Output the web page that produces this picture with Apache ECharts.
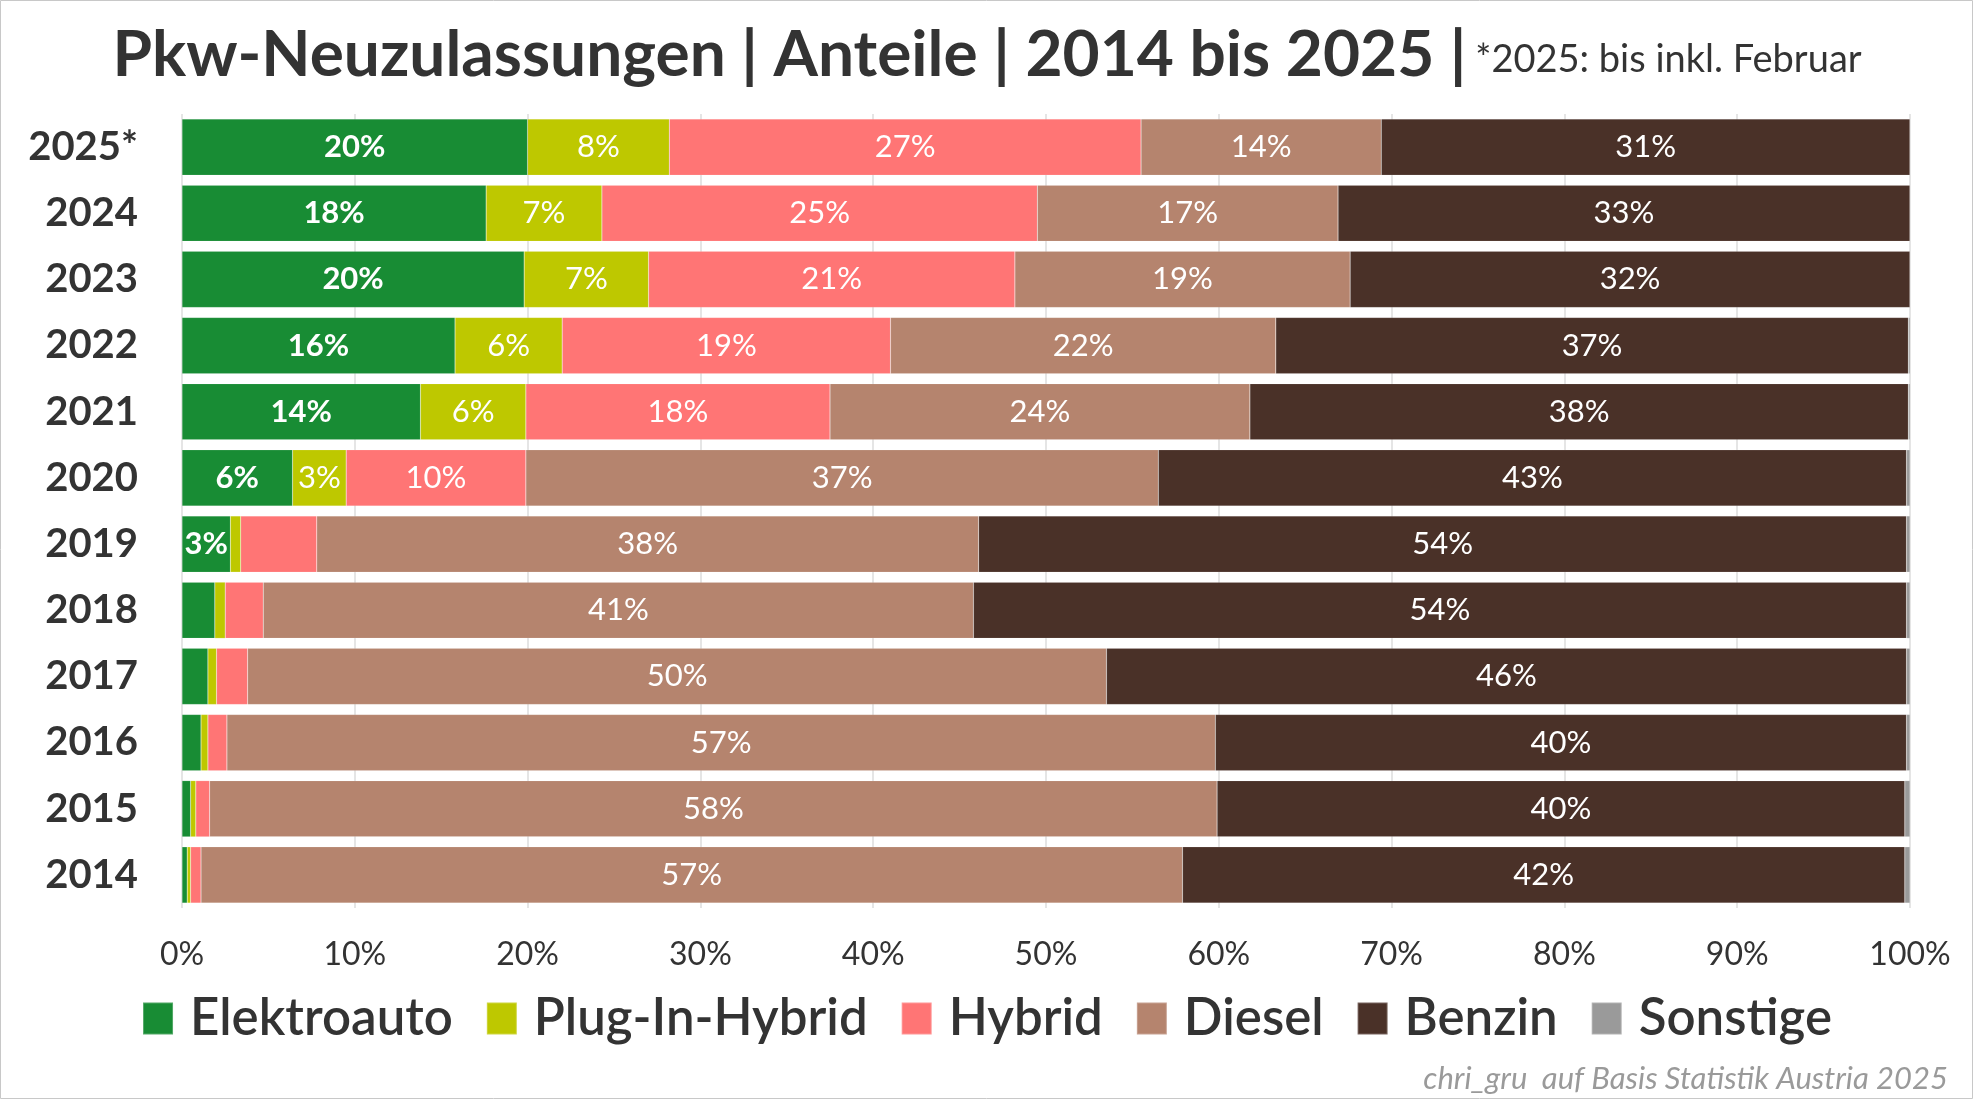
<!DOCTYPE html>
<html><head><meta charset="utf-8">
<script src="https://cdn.jsdelivr.net/npm/echarts@6/dist/echarts.min.js"></script>
<style>html,body{margin:0;padding:0;background:#fff}#c{width:1974px;height:1100px}</style>
</head><body><div id="c"></div>
<script>
const years = ['2014','2015','2016','2017','2018','2019','2020','2021','2022','2023','2024','2025*'];
const elektro   = [0.3, 0.5, 1.1, 1.5, 1.9, 2.8, 6.4, 13.8, 15.8, 19.8, 17.6, 20.0];
const plugin    = [0.2, 0.3, 0.4, 0.5, 0.6, 0.6, 3.1, 6.1, 6.2, 7.2, 6.7, 8.2];
const hybrid    = [0.6, 0.8, 1.1, 1.8, 2.2, 4.4, 10.4, 17.6, 19.0, 21.2, 25.2, 27.3];
const diesel    = [56.8, 58.3, 57.2, 49.7, 41.1, 38.3, 36.6, 24.3, 22.3, 19.4, 17.4, 13.9];
const benzin    = [41.8, 39.8, 40.0, 46.3, 54.0, 53.7, 43.3, 38.1, 36.6, 32.4, 33.1, 30.6];
const sonstige  = [0.3, 0.3, 0.2, 0.2, 0.2, 0.2, 0.2, 0.1, 0.1, 0, 0, 0];
const xTicks = [0,10,20,30,40,50,60,70,80,90,100];

const FONT = 'Lato';
const seriesDefs = [
  {name:'Elektroauto', data:elektro, color:'#188c34', min:2.5, bold:true},
  {name:'Plug-In-Hybrid', data:plugin, color:'#bec800', min:3},
  {name:'Hybrid', data:hybrid, color:'#ff7575', min:5},
  {name:'Diesel', data:diesel, color:'#b5846e', min:5},
  {name:'Benzin', data:benzin, color:'#4a3128', min:5},
  {name:'Sonstige', data:sonstige, color:'#9a9a9a', min:101}
];

const chart = echarts.init(document.getElementById('c'));
chart.setOption({
  backgroundColor:'#fff',
  animation:false,
  textStyle:{fontFamily:FONT},
  title:{
    left:'center', top:18,
    text:'{a|Pkw-Neuzulassungen | Anteile | 2014 bis 2025 |}  {b|*2025: bis inkl. Februar}',
    textStyle:{rich:{
      a:{fontFamily:FONT, fontSize:64, fontWeight:'bold', color:'#333'},
      b:{fontFamily:FONT, fontSize:38, fontWeight:'normal', color:'#333', padding:[10,0,0,0]}
    }}
  },
  legend:{
    bottom:51, left:'center',
    itemWidth:30, itemHeight:32, itemGap:33,
    icon:'rect',
    textStyle:{fontFamily:FONT, fontSize:51, fontWeight:600, color:'#333', padding:[0,0,0,12]},
    data:seriesDefs.map(s=>s.name)
  },
  grid:{left:182, right:64, top:114, height:794},
  xAxis:{
    type:'value', min:0, max:100, interval:10,
    axisLine:{show:false}, axisTick:{show:false},
    splitLine:{show:true, lineStyle:{color:'#dcdcdc', width:1.5}},
    axisLabel:{formatter:v=>v+'%', fontSize:32, color:'#333', margin:31, fontFamily:FONT}
  },
  yAxis:{
    type:'category', data:years,
    axisLine:{show:false}, axisTick:{show:false},
    axisLabel:{fontSize:40, fontWeight:'bold', color:'#333', margin:44, fontFamily:FONT}
  },
  series:seriesDefs.map(s=>({
    name:s.name, type:'bar', stack:'total', data:s.data,
    barCategoryGap:'15%',
    itemStyle:{color:s.color, borderColor:'rgba(255,255,255,0.25)', borderWidth:0.5},
    label:{
      show:true, position:'inside', color:'#fff', fontFamily:FONT,
      fontSize:31, fontWeight:s.bold?'bold':'normal',
      formatter:p=> p.value>=s.min ? Math.round(p.value)+'%' : ''
    }
  })),
  graphic:[
    {type:'rect', shape:{x:0.5,y:0.5,width:1972,height:1098}, style:{fill:'none', stroke:'#c8c8c8', lineWidth:1}, silent:true},
    {type:'text', right:26, bottom:6, style:{text:'chri_gru  auf Basis Statistik Austria 2025', fontFamily:FONT, fontStyle:'italic', fontSize:31, fill:'#9a9a9a'}}
  ]
});
</script></body></html>
